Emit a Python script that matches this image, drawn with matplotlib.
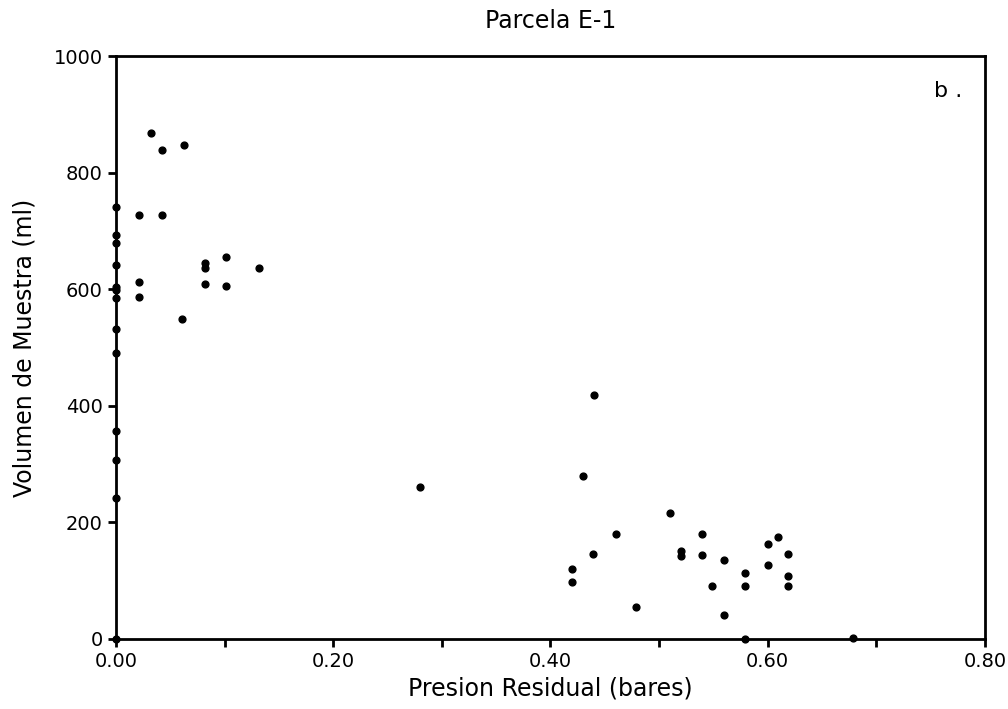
import matplotlib
matplotlib.use("Agg")
from matplotlib import pyplot as plt
from matplotlib.ticker import MultipleLocator

# puntos (presion residual en bares, volumen en ml)
presion = [0.032, 0.042, 0.063, 0.021, 0.042,
           0.0, 0.0, 0.0, 0.0, 0.0, 0.0, 0.0, 0.0,
           0.0, 0.0, 0.0, 0.0, 0.0,
           0.101, 0.082, 0.082, 0.132, 0.021, 0.082, 0.101, 0.021, 0.061,
           0.280, 0.440, 0.430, 0.460, 0.439, 0.420, 0.420, 0.479,
           0.510, 0.520, 0.520,
           0.540, 0.540, 0.549, 0.560, 0.560, 0.579, 0.579, 0.579,
           0.600, 0.600, 0.610, 0.619, 0.619, 0.619, 0.679]
volumen = [868, 838, 848, 727, 727,
           741, 693, 679, 641, 604, 598, 585, 532,
           491, 357, 306, 242, 0,
           655, 644, 636, 637, 612, 608, 605, 586, 549,
           260, 419, 279, 180, 145, 120, 98, 54,
           216, 150, 142,
           180, 143, 90, 135, 41, 113, 90, 0,
           162, 126, 175, 146, 108, 91, 2]

x_ticks = [0.0, 0.2, 0.4, 0.6, 0.8]
x_labels = ["0.00", "0.20", "0.40", "0.60", "0.80"]
y_ticks = [0, 200, 400, 600, 800, 1000]

plt.rcParams.update({'font.family': 'DejaVu Sans'})

fig = plt.figure(figsize=(10.08, 7.09), dpi=100)
ax = fig.add_axes([0.115, 0.099, 0.862, 0.822])

ax.scatter(presion, volumen, s=24, color='black', marker='o', zorder=3, clip_on=False)

ax.set_xlim(0, 0.8)
ax.set_ylim(0, 1000)
ax.set_xticks(x_ticks)
ax.set_xticklabels(x_labels)
ax.xaxis.set_minor_locator(MultipleLocator(0.1))
ax.set_yticks(y_ticks)
ax.tick_params(axis='both', which='major', labelsize=14, width=2, length=6, direction='out')
ax.tick_params(axis='x', which='minor', width=2, length=6, direction='out')
for s in ax.spines.values():
    s.set_linewidth(2)

ax.set_xlabel("Presion Residual (bares)", fontsize=17, labelpad=4)
ax.set_ylabel("Volumen de Muestra (ml)", fontsize=17, labelpad=12)
ax.set_title("Parcela E-1", fontsize=17, pad=20)
ax.text(0.958, 0.93, "b .", transform=ax.transAxes, fontsize=16, ha='center')

fig.savefig("out.png", dpi=100)
